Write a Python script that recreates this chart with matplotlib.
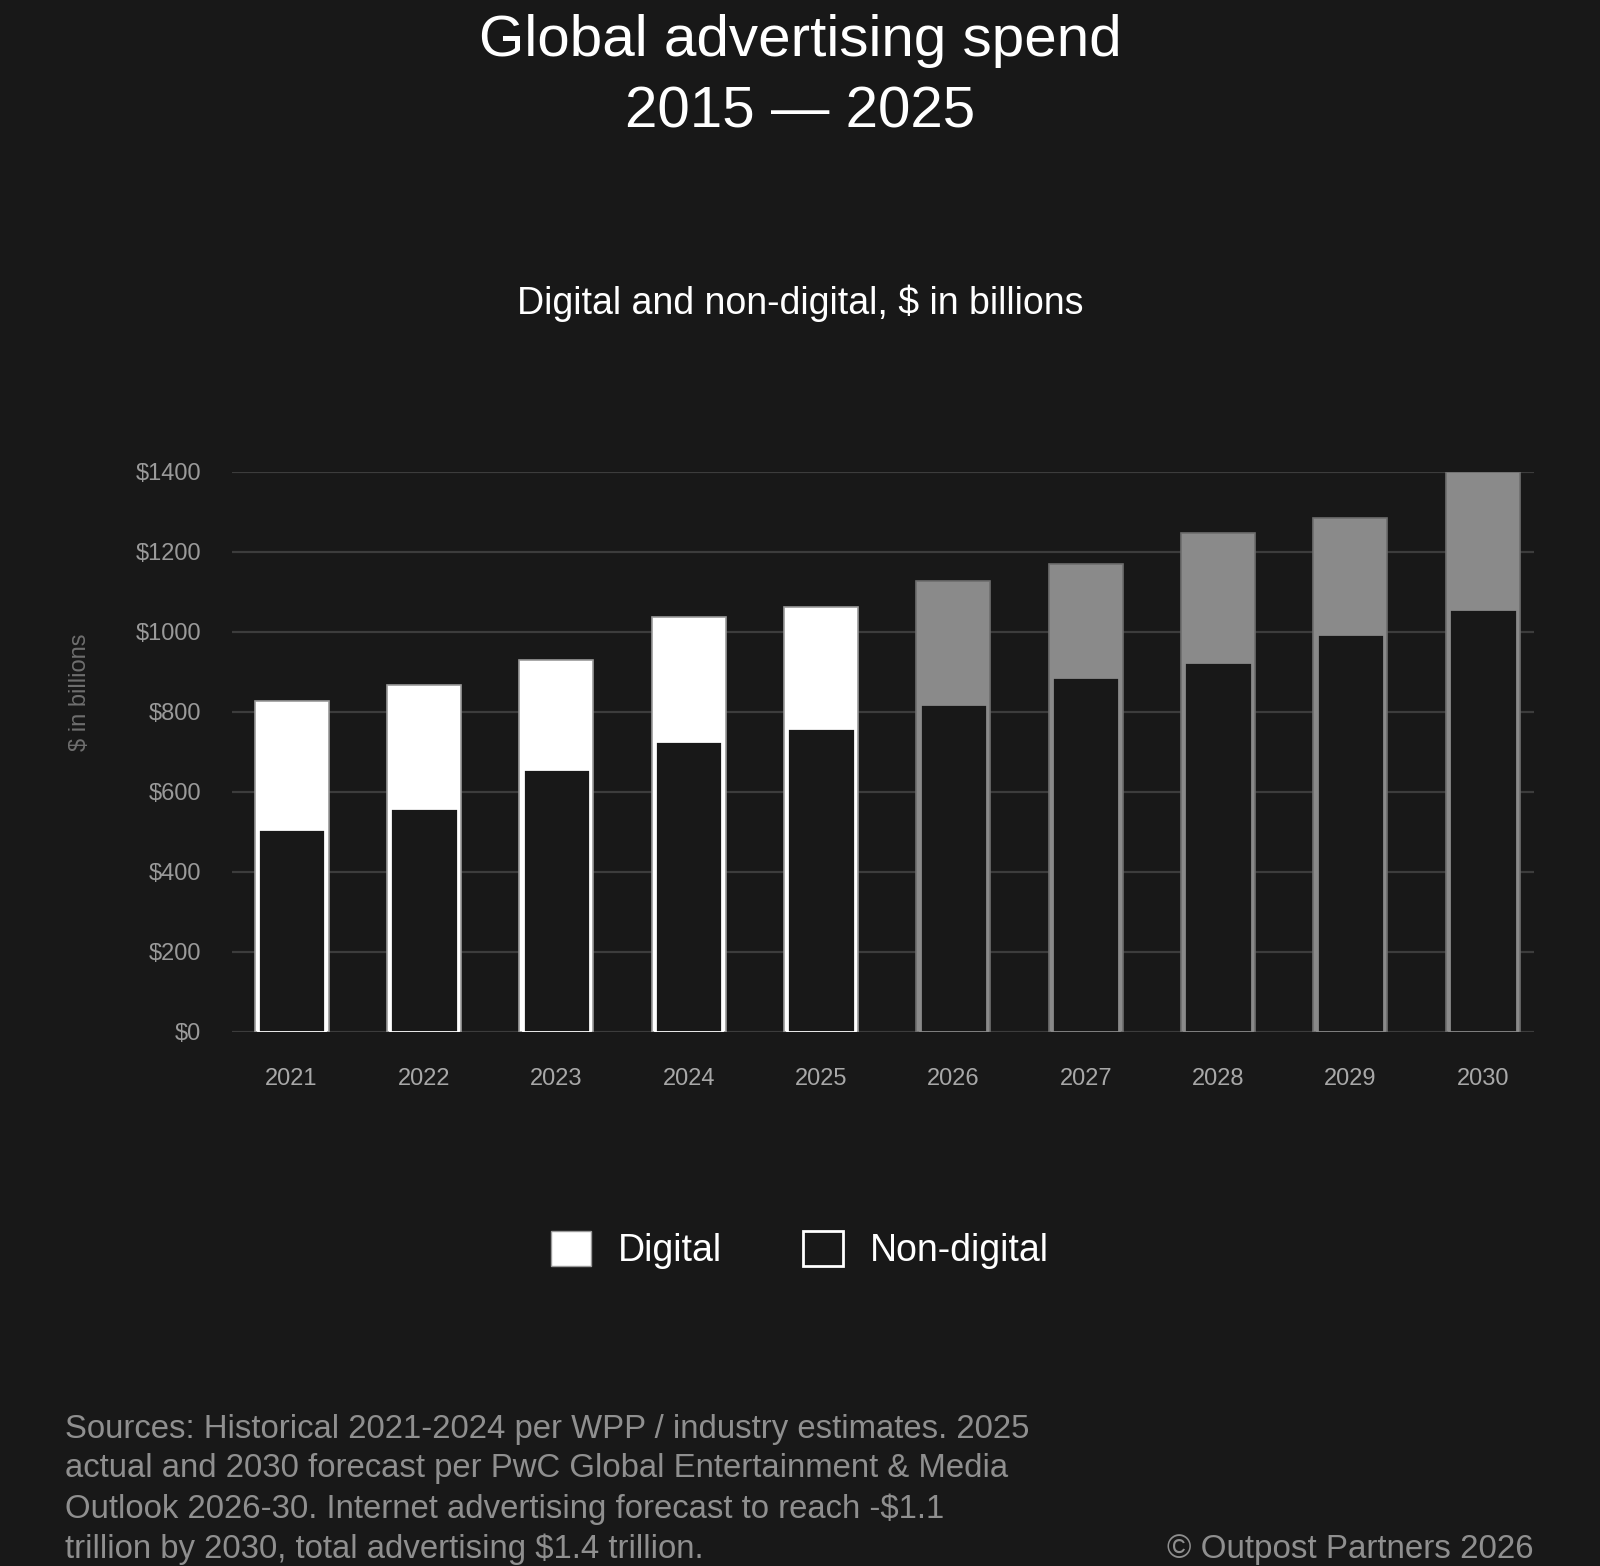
import numpy as np
import matplotlib.pyplot as plt
from matplotlib.patches import Patch

plt.rcParams['font.family'] = ['Liberation Sans', 'DejaVu Sans']

years = ['2021', '2022', '2023', '2024', '2025', '2026', '2027', '2028', '2029', '2030']
non_digital = [506, 559, 656, 726, 759, 819, 886, 924, 993, 1056]
digital = [320, 307, 273, 310, 303, 307, 283, 322, 290, 343]
forecast = [False, False, False, False, False, True, True, True, True, True]
yticks = [0, 200, 400, 600, 800, 1000, 1200, 1400]

BG = '#181818'
GREY = '#8a8a8a'

x = np.arange(len(years))
total = np.array(non_digital) + np.array(digital)
fill = [GREY if f else 'white' for f in forecast]
outer_edge = ['#6e6e6e' if f else '#9a9a9a' for f in forecast]
inner_edge = [GREY if f else 'white' for f in forecast]

fig = plt.figure(figsize=(16, 15.66), dpi=100, facecolor=BG)
ax = fig.add_axes([0.145, 0.3412, 0.814, 0.3576], facecolor=BG)

# digital on top: full bar, then the non-digital part covers the bottom
ax.bar(x, total, width=0.56, color=fill, edgecolor=outer_edge, linewidth=1.2, zorder=2)
ax.bar(x, non_digital, width=0.51, color=BG, edgecolor=inner_edge, linewidth=2, zorder=3)

ax.set_xlim(-0.45, 9.39)
ax.set_ylim(0, 1400)
ax.set_yticks(yticks)
ax.set_yticklabels([f'${v}' for v in yticks])
ax.set_xticks(x)
ax.set_xticklabels(years)
ax.tick_params(axis='y', length=0, pad=22, labelsize=17, labelcolor='#9a9a9a')
ax.tick_params(axis='x', length=0, pad=26, labelsize=17, labelcolor='#a8a8a8')
ax.yaxis.grid(True, color='#3c3c3c', linewidth=1.6, zorder=0)
ax.set_axisbelow(True)
for s in ax.spines.values():
    s.set_visible(False)

fig.text(80 / 1600, 1 - 692 / 1566, '$ in billions', rotation=90, ha='center', va='center',
         fontsize=17, color='#6f6f6f')

fig.text(0.5, 1 - 41 / 1566, 'Global advertising spend', ha='center', va='center',
         fontsize=42, color='white')
fig.text(0.5, 1 - 112 / 1566, '2015 \u2014 2025', ha='center', va='center',
         fontsize=42, color='white')
fig.text(0.5, 1 - 303 / 1566, 'Digital and non-digital, $ in billions', ha='center', va='center',
         fontsize=27, color='white')

handles = [Patch(facecolor='white', edgecolor='#9a9a9a', linewidth=1),
           Patch(facecolor=BG, edgecolor='white', linewidth=2)]
fig.legend(handles, ['Digital', 'Non-digital'], loc='center', bbox_to_anchor=(0.5, 1 - 1250 / 1566),
           ncol=2, frameon=False, fontsize=27, labelcolor='white',
           handlelength=1.07, handleheight=1.07, handletextpad=0.72, columnspacing=2.15)

sources = ('Sources: Historical 2021-2024 per WPP / industry estimates. 2025\n'
           'actual and 2030 forecast per PwC Global Entertainment & Media\n'
           'Outlook 2026-30. Internet advertising forecast to reach -$1.1\n'
           'trillion by 2030, total advertising $1.4 trillion.')
fig.text(65 / 1600, 1 - 1558 / 1566, sources, ha='left', va='baseline', fontsize=23.7,
         color='#8f8f8f', linespacing=1.36)
fig.text(1534 / 1600, 1 - 1558 / 1566, '\u00a9 Outpost Partners 2026', ha='right', va='baseline',
         fontsize=23.9, color='#8f8f8f')

fig.savefig('out.png', dpi=100, facecolor=BG)
